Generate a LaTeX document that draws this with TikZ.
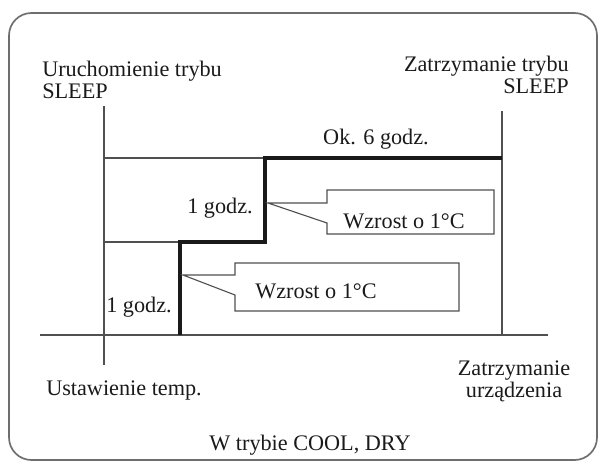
\documentclass[tikz,border=0pt]{standalone}
\usepackage{fontspec}
\setmainfont{Liberation Serif}
\usepackage{xcolor}
\usetikzlibrary{positioning,calc}
\definecolor{slink}{HTML}{1A1A1A}
\definecolor{slline}{HTML}{505050}
\definecolor{slframe}{HTML}{6E6E6E}
\tikzset{
  frame/.style={draw=slframe,line width=1.2pt,rounded corners=16pt},
  axis/.style={draw=slline,line width=0.8pt},
  profile/.style={draw=slink,line width=2.2pt,line join=miter},
  callout/.style={draw=slline,line width=0.8pt,fill=white},
  lbl/.style={inner sep=0pt,text=slink,font=\fontsize{15.8}{15}\selectfont},
}

\begin{document}
\begin{tikzpicture}[x=0.025cm,y=-0.025cm]
  \useasboundingbox (0,0) rectangle (600,463);
  \draw[frame] (9,13) rectangle (597,460);
  % time lines and temperature steps
  \coordinate (starttop) at (104,106);
  \coordinate (startbot) at (104,365);
  \coordinate (stoptop) at (502,111);
  \coordinate (basel) at (40,335);
  \coordinate (baser) at (548,335);
  \coordinate (s0) at (180,335);
  \coordinate (s1) at (180,242);
  \coordinate (s2) at (265,242);
  \coordinate (s3) at (265,158);
  \coordinate (s4) at (502,158);
  \draw[axis] (starttop) -- (startbot);
  \draw[axis] (stoptop) -- (stoptop |- basel);
  \draw[axis] (basel) -- (baser);
  \draw[axis] (starttop |- s3) -- (s3);
  \draw[axis] (starttop |- s1) -- (s1);
  \draw[profile] (s0) -- (s1) -- (s2) -- (s3) -- (s4);
  % callouts
  \coordinate (tipa) at (268,203);
  \coordinate (tipb) at (183,275);
  \draw[callout] (tipa) -- (327,203) |- (494,190) |- (327,234) -- (327,223) -- cycle;
  \draw[callout] (tipb) -- (235,275) |- (459,263) |- (235,311) -- (235,295) -- cycle;
  % labels (base = last line)
  \node[lbl,anchor=base west,align=left] (startlbl) at (42,98) {Uruchomienie trybu\\SLEEP};
  \node[lbl,anchor=base east,align=right] (stoplbl) at (569,93) {Zatrzymanie trybu\\SLEEP};
  \node[lbl,anchor=base] (sixh) at (376,144) {Ok. 6 godz.};
  \node[lbl,anchor=base] (houra) at (220,213) {1 godz.};
  \node[lbl,anchor=base] (hourb) at (139,312) {1 godz.};
  \node[lbl,anchor=base] (risea) at (404,228) {Wzrost o 1°C};
  \node[lbl,anchor=base] (riseb) at (316,298) {Wzrost o 1°C};
  \node[lbl,anchor=base] (settemp) at (124,395) {Ustawienie temp.};
  \node[lbl,anchor=base,align=center] (unitoff) at (514,397) {Zatrzymanie\\urządzenia};
  \node[lbl,anchor=base] (mode) at (310,450) {W trybie COOL, DRY};
\end{tikzpicture}
\end{document}
